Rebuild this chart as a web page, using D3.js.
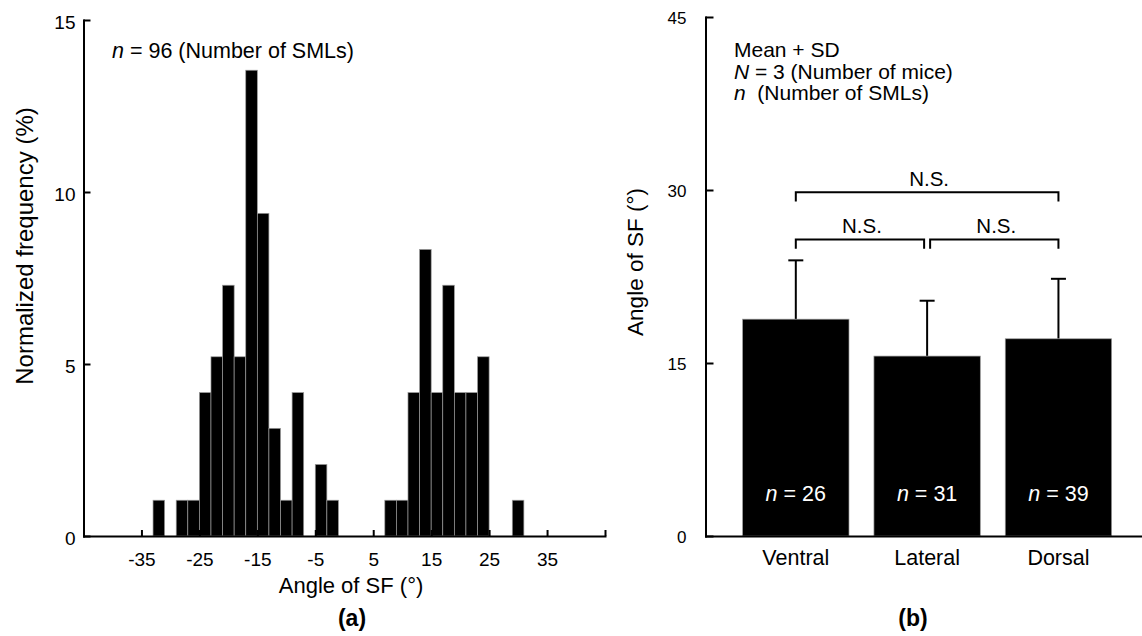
<!DOCTYPE html>
<html>
<head>
<meta charset="utf-8">
<script src="https://cdnjs.cloudflare.com/ajax/libs/d3/7.8.5/d3.min.js"></script>
<style>
    body { margin: 0; background: #fff; }
    svg text { font-family: "Liberation Sans", Arial, sans-serif; fill: #000; }
</style>
</head>
<body>
<div class="viewport"></div>
<script>

// (a) histogram, 2 deg bins: bin centre and normalized frequency (%)
var binCenters = [-32, -30, -28, -26, -24, -22, -20, -18, -16, -14, -12, -10, -8, -6, -4, -2,
                  0, 2, 4, 6, 8, 10, 12, 14, 16, 18, 20, 22, 24, 26, 28, 30];
var binFreq = [1.04, 0, 1.04, 1.04, 4.17, 5.21, 7.29, 5.21, 13.54, 9.38, 3.13, 1.04, 4.17, 0, 2.08, 1.04,
               0, 0, 0, 0, 1.04, 1.04, 4.17, 8.33, 4.17, 7.29, 4.17, 4.17, 5.21, 0, 0, 1.04];
var binWidth = 2;
var xTicksA = [-45, -35, -25, -15, -5, 5, 15, 25, 35, 45];
var yTicksA = [0, 5, 10, 15];

// (b) mean + SD per region
var groups = ["Ventral", "Lateral", "Dorsal"];
var groupMean = [18.8, 15.6, 17.1];
var groupSD = [5.1, 4.8, 5.2];
var groupN = [26, 31, 39];
var yTicksB = [0, 15, 30, 45];

// significance brackets: from, to, level (deg)
var brackets = [
    ["Ventral", "Dorsal", 29.8],
    ["Ventral", "Lateral", 25.7],
    ["Lateral", "Dorsal", 25.7]
];

function letsGo() {

    var svg = d3.select(".viewport").append("svg")
        .attr("width", 1142)
        .attr("height", 636);

    svg.append("rect").attr("width", 1142).attr("height", 636).attr("fill", "#fff");

    panelA(svg);
    panelB(svg);

    function styleAxis(g, fontSize) {
        g.attr("font-family", null).attr("font-size", fontSize);
        g.select(".domain").attr("stroke", "#000").attr("stroke-width", 2).attr("stroke-linecap", "square");
        g.selectAll(".tick line").attr("stroke", "#000").attr("stroke-width", 2);
    }

    function italicN(sel, rest) {
        sel.append("tspan").attr("font-style", "italic").text("n");
        sel.append("tspan").text(rest);
    }

    function panelA(svg) {

        var x = d3.scaleLinear().domain([-45, 45]).range([83.5, 605]),
            y = d3.scaleLinear().domain([0, 15]).range([536, 20]);

        var bins = binCenters.map(function (c, i) { return { c: c, f: binFreq[i] }; })
            .filter(function (d) { return d.f > 0; });

        svg.append("g").selectAll("rect").data(bins).enter().append("rect")
            .attr("x", function (d) { return x(d.c - binWidth / 2); })
            .attr("width", function (d) { return x(d.c + binWidth / 2) - x(d.c - binWidth / 2); })
            .attr("y", function (d) { return y(d.f); })
            .attr("height", function (d) { return y(0) - y(d.f); })
            .attr("fill", "#000")
            .attr("stroke", "#9a9a9a")
            .attr("stroke-width", 0.7);

        var gx = svg.append("g").attr("transform", "translate(0," + y(0) + ")")
            .call(d3.axisBottom(x).tickValues(xTicksA).tickSizeInner(-6).tickSizeOuter(0).tickPadding(17)
                .tickFormat(function (d) { return Math.abs(d) === 45 ? "" : d; }));
        styleAxis(gx, 19);

        var gy = svg.append("g").attr("transform", "translate(" + x(-45) + ",0)")
            .call(d3.axisLeft(y).tickValues(yTicksA).tickSizeInner(-7).tickSizeOuter(0).tickPadding(8));
        styleAxis(gy, 19);
        gy.selectAll(".tick text").attr("dy", "0.45em");

        svg.append("text")
            .attr("x", 351).attr("y", 593)
            .attr("text-anchor", "middle").attr("font-size", 22)
            .text("Angle of SF (\u00b0)");

        svg.append("text")
            .attr("transform", "translate(33,246) rotate(-90)")
            .attr("text-anchor", "middle").attr("font-size", 24)
            .text("Normalized frequency (%)");

        svg.append("text")
            .attr("x", 112).attr("y", 58).attr("font-size", 21.5)
            .call(italicN, " = 96 (Number of SMLs)");

        svg.append("text")
            .attr("x", 352).attr("y", 626)
            .attr("text-anchor", "middle").attr("font-size", 23).attr("font-weight", "bold")
            .text("(a)");
    }

    function panelB(svg) {

        var x = d3.scaleBand().domain(groups).range([705.5, 1142])
                .paddingInner(0.19).paddingOuter(0.257).align(0.55),
            y = d3.scaleLinear().domain([0, 45]).range([536, 17]);

        var data = groups.map(function (g, i) {
            return { g: g, m: groupMean[i], sd: groupSD[i], n: groupN[i] };
        });

        function cx(g) { return x(g) + x.bandwidth() / 2; }

        var bars = svg.append("g").selectAll("g").data(data).enter().append("g");

        // error bars go up only (mean + SD)
        bars.append("line")
            .attr("x1", function (d) { return cx(d.g); })
            .attr("x2", function (d) { return cx(d.g); })
            .attr("y1", function (d) { return y(d.m); })
            .attr("y2", function (d) { return y(d.m + d.sd); })
            .attr("stroke", "#000").attr("stroke-width", 2);

        bars.append("line")
            .attr("x1", function (d) { return cx(d.g) - 7.5; })
            .attr("x2", function (d) { return cx(d.g) + 7.5; })
            .attr("y1", function (d) { return y(d.m + d.sd); })
            .attr("y2", function (d) { return y(d.m + d.sd); })
            .attr("stroke", "#000").attr("stroke-width", 2);

        bars.append("rect")
            .attr("x", function (d) { return x(d.g); })
            .attr("width", x.bandwidth())
            .attr("y", function (d) { return y(d.m); })
            .attr("height", function (d) { return y(0) - y(d.m); })
            .attr("fill", "#000")
            .attr("stroke", "#9a9a9a")
            .attr("stroke-width", 0.7);

        bars.append("text")
            .attr("x", function (d) { return cx(d.g); })
            .attr("y", 501)
            .attr("text-anchor", "middle").attr("font-size", 21.5)
            .style("fill", "#fff")
            .each(function (d) { d3.select(this).call(italicN, " = " + d.n); });

        var gx = svg.append("g").attr("transform", "translate(0," + y(0) + ")")
            .call(d3.axisBottom(x).tickSize(0).tickPadding(14));
        styleAxis(gx, 21.5);

        var gy = svg.append("g").attr("transform", "translate(705.5,0)")
            .call(d3.axisLeft(y).tickValues(yTicksB).tickSizeInner(-8).tickSizeOuter(0).tickPadding(19));
        styleAxis(gy, 17);
        gy.selectAll(".tick text").attr("font-family", "'Open Sans', sans-serif").attr("dy", "0.4em");

        // N.S. brackets
        var leg = y(0) - y(0.8);
        brackets.forEach(function (b) {
            var x1 = cx(b[0]) + (b[0] === "Lateral" ? 3 : 0),
                x2 = cx(b[1]) - (b[1] === "Lateral" ? 3 : 0),
                yy = y(b[2]);

            svg.append("path")
                .attr("d", "M" + x1 + "," + (yy + leg) + "V" + yy + "H" + x2 + "V" + (yy + leg))
                .attr("fill", "none").attr("stroke", "#000").attr("stroke-width", 2);

            svg.append("text")
                .attr("x", (x1 + x2) / 2 + 2).attr("y", yy - 6.5)
                .attr("text-anchor", "middle").attr("font-size", 20.5)
                .text("N.S.");
        });

        svg.append("text")
            .attr("transform", "translate(643,262) rotate(-90)")
            .attr("text-anchor", "middle").attr("font-size", 22.5)
            .text("Angle of SF (\u00b0)");

        var note = svg.append("text").attr("font-size", 21);
        note.append("tspan").attr("x", 734).attr("y", 57).text("Mean + SD");
        note.append("tspan").attr("x", 734).attr("y", 79).attr("font-style", "italic").text("N");
        note.append("tspan").text(" = 3 (Number of mice)");
        note.append("tspan").attr("x", 734).attr("y", 100).attr("font-style", "italic").text("n");
        note.append("tspan").text("\u00a0\u00a0(Number of SMLs)");

        svg.append("text")
            .attr("x", 913).attr("y", 626)
            .attr("text-anchor", "middle").attr("font-size", 23).attr("font-weight", "bold")
            .text("(b)");
    }
}

letsGo();
</script>
</body>
</html>
